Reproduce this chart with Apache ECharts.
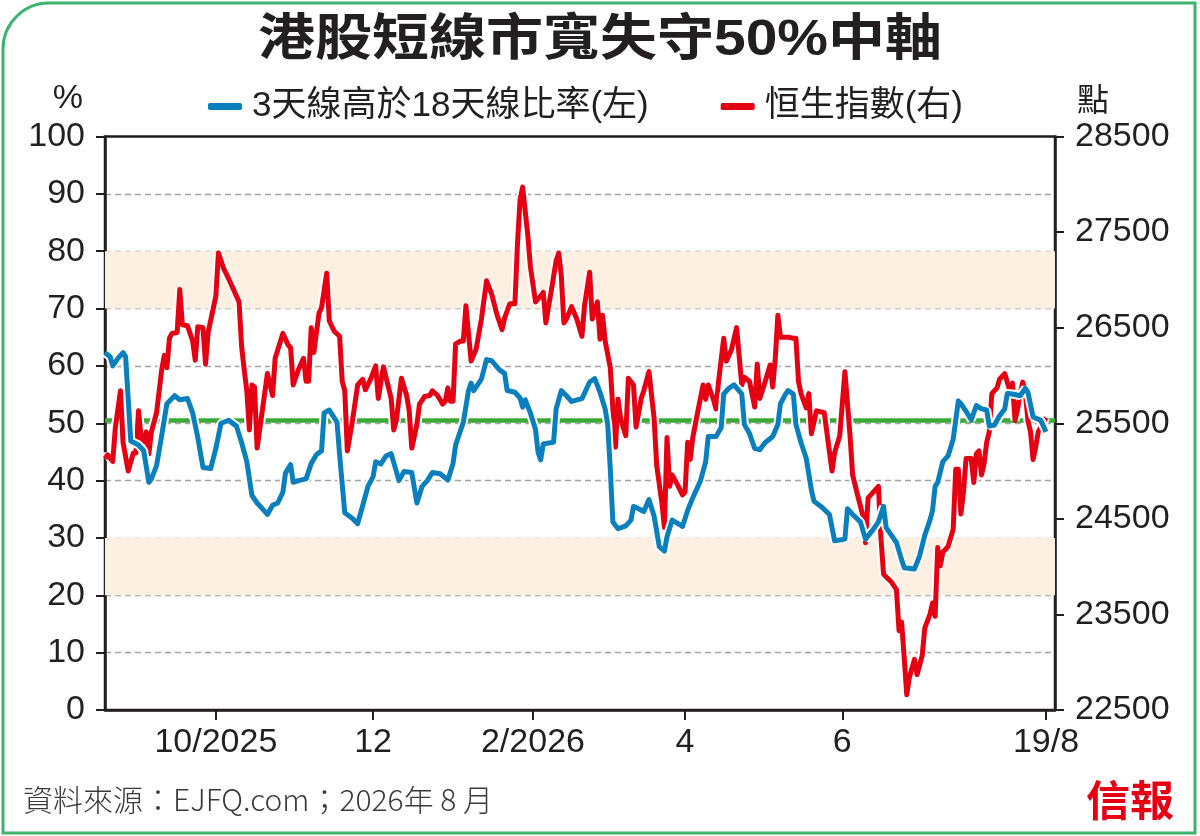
<!DOCTYPE html>
<html>
<head>
<meta charset="utf-8">
<script src="https://cdn.jsdelivr.net/npm/echarts@6/dist/echarts.min.js"></script>
<style>
  html, body { margin: 0; padding: 0; background: #fff; }
  #main { width: 1200px; height: 836px; }
</style>
</head>
<body>
<div id="main"></div>
<script>
// 3天線高於18天線比率 (左軸, %)
const ratioDates = [
  '2025-08-19','2025-08-21','2025-08-22','2025-08-24','2025-08-26','2025-08-27','2025-08-29',
  '2025-09-01','2025-09-03','2025-09-05','2025-09-06','2025-09-08','2025-09-10','2025-09-12',
  '2025-09-15','2025-09-17','2025-09-20','2025-09-22','2025-09-24','2025-09-26','2025-09-29',
  '2025-10-01','2025-10-03','2025-10-06','2025-10-09','2025-10-11','2025-10-13','2025-10-15',
  '2025-10-17','2025-10-19','2025-10-21','2025-10-23','2025-10-25','2025-10-27','2025-10-28',
  '2025-10-30','2025-10-31','2025-11-02','2025-11-05','2025-11-07','2025-11-09','2025-11-11',
  '2025-11-12','2025-11-14','2025-11-17','2025-11-18','2025-11-20','2025-11-23','2025-11-25',
  '2025-11-27','2025-11-29','2025-12-01','2025-12-02','2025-12-04','2025-12-06','2025-12-08',
  '2025-12-10','2025-12-11','2025-12-13','2025-12-16','2025-12-17','2025-12-18','2025-12-20',
  '2025-12-22','2025-12-24','2025-12-27','2025-12-30','2026-01-01','2026-01-02','2026-01-05',
  '2026-01-07','2026-01-08','2026-01-09','2026-01-12','2026-01-14','2026-01-16','2026-01-19',
  '2026-01-21','2026-01-22','2026-01-25','2026-01-27','2026-01-28','2026-01-29','2026-01-31',
  '2026-02-02','2026-02-03','2026-02-04','2026-02-05','2026-02-09','2026-02-10','2026-02-12',
  '2026-02-14','2026-02-16','2026-02-20','2026-02-23','2026-02-25','2026-02-27','2026-03-01',
  '2026-03-02','2026-03-03','2026-03-04','2026-03-06','2026-03-09','2026-03-11','2026-03-12',
  '2026-03-14','2026-03-16','2026-03-18','2026-03-20','2026-03-22','2026-03-24','2026-03-25',
  '2026-03-27','2026-03-30','2026-03-31','2026-04-02','2026-04-04','2026-04-07','2026-04-09',
  '2026-04-10','2026-04-13','2026-04-15','2026-04-16','2026-04-18','2026-04-20','2026-04-23',
  '2026-04-24','2026-04-26','2026-04-28','2026-04-30','2026-05-02','2026-05-05','2026-05-07',
  '2026-05-08','2026-05-10','2026-05-11','2026-05-13','2026-05-14','2026-05-16','2026-05-18',
  '2026-05-20','2026-05-21','2026-05-24','2026-05-27','2026-05-29','2026-06-02','2026-06-03',
  '2026-06-05','2026-06-08','2026-06-10','2026-06-13','2026-06-15','2026-06-17','2026-06-18',
  '2026-06-20','2026-06-22','2026-06-24','2026-06-25','2026-06-29','2026-07-01','2026-07-03',
  '2026-07-05','2026-07-06','2026-07-07','2026-07-08','2026-07-10','2026-07-12','2026-07-14',
  '2026-07-16','2026-07-17','2026-07-19','2026-07-21','2026-07-23','2026-07-25','2026-07-27',
  '2026-07-28','2026-07-30','2026-08-01','2026-08-03','2026-08-04','2026-08-06','2026-08-09',
  '2026-08-11','2026-08-12','2026-08-14','2026-08-17','2026-08-18','2026-08-19'
];
const ratioValues = [
  62.3,61.6,60,61.3,62.3,61.6,46.9,
  46.2,45.2,39.7,40.3,42.6,47.9,53.4,
  54.8,54.1,54.3,51.8,47.5,42.3,42.1,
  45.6,50,50.5,49.5,46.6,43.3,37.4,
  36.1,35.1,34.1,35.7,36.1,38,41.3,
  42.8,39.7,40,40.3,43,44.5,45.2,
  51.8,52.3,50.2,44.5,34.4,33.4,32.5,
  35.7,39,40.7,43.3,42.9,44.3,44.7,
  41.6,40,41.6,41.4,38.7,36.1,39,
  40,41.4,41.2,40.1,43,46.2,50.2,
  55.7,57,55.7,57.7,61.1,60.9,59.3,
  58.7,55.7,55.4,54.4,52.8,54.1,51.8,
  48.9,44.9,43.6,46.4,46.7,52.5,55.7,
  54.8,53.8,54.3,57.2,57.8,55.4,52.5,
  49.8,42,32.8,31.6,32.1,33.1,35.5,
  35.1,34.6,36.7,33.8,28.5,27.7,30.2,
  33.1,32.3,32,34.8,37,40,43.3,
  47.7,47.7,49.2,55.1,56.1,56.7,55.1,
  49.8,48.2,45.6,45.4,46.6,47.7,49.8,
  53.4,55.1,55.7,55.1,49.8,46.6,43.9,
  38.4,36.4,35.4,34.1,29.5,29.8,35.1,
  34.1,32.8,29.8,31.5,32.8,35.5,31.8,
  30.5,29.2,26.2,24.8,24.6,26.9,30.5,
  33.1,34.8,39,39.7,43.3,44.3,47.2,
  53.9,53.4,52.1,50.6,53.1,52.5,52.3,
  49.5,49.7,51.3,52.5,55.2,55.1,54.8,
  56.1,55.4,51.1,50.5,49.5,48.5
];

// 恒生指數 (右軸, 點)
const hsiDates = [
  '2025-08-19','2025-08-20','2025-08-22','2025-08-23','2025-08-25','2025-08-26','2025-08-28',
  '2025-08-30','2025-08-31','2025-09-01','2025-09-02','2025-09-03','2025-09-04','2025-09-05',
  '2025-09-06','2025-09-08','2025-09-10','2025-09-11','2025-09-12','2025-09-13','2025-09-14',
  '2025-09-16','2025-09-17','2025-09-18','2025-09-20','2025-09-22','2025-09-23','2025-09-24',
  '2025-09-26','2025-09-27','2025-09-28','2025-10-01','2025-10-02','2025-10-04','2025-10-06',
  '2025-10-08','2025-10-10','2025-10-11','2025-10-12','2025-10-13','2025-10-14','2025-10-15',
  '2025-10-16','2025-10-17','2025-10-19','2025-10-21','2025-10-23','2025-10-24','2025-10-27',
  '2025-10-29','2025-10-30','2025-10-31','2025-11-02','2025-11-04','2025-11-05','2025-11-06',
  '2025-11-07','2025-11-08','2025-11-10','2025-11-11','2025-11-13','2025-11-14','2025-11-16',
  '2025-11-18','2025-11-19','2025-11-20','2025-11-21','2025-11-23','2025-11-25','2025-11-27',
  '2025-11-28','2025-11-30','2025-12-02','2025-12-03','2025-12-05','2025-12-06','2025-12-08',
  '2025-12-09','2025-12-10','2025-12-12','2025-12-14','2025-12-15','2025-12-16','2025-12-18',
  '2025-12-19','2025-12-21','2025-12-23','2025-12-24','2025-12-26','2025-12-28','2025-12-29',
  '2025-12-30','2025-12-31','2026-01-01','2026-01-02','2026-01-04','2026-01-05','2026-01-06',
  '2026-01-08','2026-01-10','2026-01-12','2026-01-14','2026-01-16','2026-01-18','2026-01-20',
  '2026-01-21','2026-01-23','2026-01-25','2026-01-26','2026-01-27','2026-01-28','2026-01-30',
  '2026-01-31','2026-02-02','2026-02-04','2026-02-05','2026-02-06','2026-02-08','2026-02-10',
  '2026-02-11','2026-02-12','2026-02-13','2026-02-14','2026-02-16','2026-02-18','2026-02-20',
  '2026-02-21','2026-02-23','2026-02-24','2026-02-26','2026-02-27','2026-02-28','2026-03-01',
  '2026-03-03','2026-03-04','2026-03-05','2026-03-06','2026-03-07','2026-03-09','2026-03-10',
  '2026-03-12','2026-03-13','2026-03-15','2026-03-16','2026-03-18','2026-03-20','2026-03-21',
  '2026-03-23','2026-03-24','2026-03-25','2026-03-26','2026-03-27','2026-03-29','2026-03-31',
  '2026-04-01','2026-04-02','2026-04-03','2026-04-04','2026-04-06','2026-04-08','2026-04-09',
  '2026-04-10','2026-04-12','2026-04-13','2026-04-14','2026-04-16','2026-04-17','2026-04-19',
  '2026-04-21','2026-04-23','2026-04-24','2026-04-26','2026-04-28','2026-04-29','2026-04-30',
  '2026-05-02','2026-05-04','2026-05-05','2026-05-06','2026-05-07','2026-05-08','2026-05-11',
  '2026-05-13','2026-05-14','2026-05-15','2026-05-16','2026-05-18','2026-05-19','2026-05-20',
  '2026-05-22','2026-05-25','2026-05-28','2026-05-29','2026-05-31','2026-06-02','2026-06-04',
  '2026-06-05','2026-06-07','2026-06-09','2026-06-10','2026-06-11','2026-06-13','2026-06-15',
  '2026-06-16','2026-06-17','2026-06-20','2026-06-22','2026-06-23','2026-06-24','2026-06-25',
  '2026-06-26','2026-06-27','2026-06-29','2026-06-30','2026-07-02','2026-07-03','2026-07-05',
  '2026-07-06','2026-07-07','2026-07-08','2026-07-09','2026-07-10','2026-07-12','2026-07-14',
  '2026-07-15','2026-07-16','2026-07-17','2026-07-18','2026-07-19','2026-07-21','2026-07-22',
  '2026-07-23','2026-07-24','2026-07-25','2026-07-26','2026-07-27','2026-07-28','2026-07-29',
  '2026-07-31','2026-08-01','2026-08-03','2026-08-05','2026-08-06','2026-08-07','2026-08-08',
  '2026-08-09','2026-08-10','2026-08-11','2026-08-12','2026-08-13','2026-08-14','2026-08-15',
  '2026-08-16','2026-08-19'
];
const hsiValues = [
  25130,25170,25100,25450,25840,25300,25000,
  25190,25190,25630,25350,25300,25410,25180,
  25410,25610,26060,26210,26080,26390,26440,
  26450,26900,26530,26520,26360,26160,26510,
  26500,26120,26450,26830,27280,27120,27010,
  26890,26770,26300,26060,25840,25430,25900,
  25880,25240,25630,26020,25790,26180,26440,
  26320,26290,25900,26060,26180,25940,25940,
  26500,26240,26650,26710,27070,26570,26460,
  26410,25940,25840,25210,25530,25900,25960,
  25850,25960,26100,25760,26090,25980,25760,
  25430,25530,25970,25790,25630,25240,25490,
  25700,25780,25790,25840,25790,25700,25730,
  25870,25730,25730,26330,26360,26360,26730,
  26150,26280,26590,26990,26850,26640,26480,
  26600,26750,26750,27380,27840,27970,27470,
  27140,26770,26830,26870,26550,26870,27200,
  27280,27040,26550,26590,26720,26590,26410,
  26730,27080,26590,26770,26380,26630,26360,
  26080,25650,25250,25750,25550,25370,25970,
  25900,25460,25760,25840,26040,25550,25060,
  24670,24410,25350,24840,24960,24860,24750,
  24780,25300,25120,25350,25630,25900,25750,
  25900,25750,25650,25940,26390,26150,26270,
  26500,25900,25980,25940,25670,26120,25760,
  25930,26110,25880,26180,26630,26400,26400,
  26390,26390,25940,25810,25660,25810,25390,
  25630,25610,25000,25190,25370,26040,25370,
  24960,24740,24530,24250,24720,24780,24840,
  24290,23920,23840,23760,23330,23420,23050,
  22660,22840,23030,22870,23070,23360,23500,
  23620,23480,24200,24010,24150,24210,24390,
  25020,25020,24550,24780,25130,25130,24880,
  25180,25210,24960,25080,25300,25410,25810,
  25870,25960,26020,25840,25920,25530,25650,
  25810,25930,25810,25530,25410,25120,25250,
  25410,25560
];

const tickDates = ['2025-10-01', '2025-12-01', '2026-02-01', '2026-04-01', '2026-06-01', '2026-08-19'];
const tickLabels = ['10/2025', '12', '2/2026', '4', '6', '19/8'];
const rightTicks = [22500, 23500, 24500, 25500, 26500, 27500, 28500];
const bands = [[70, 80], [20, 30]];
const middleLine = 50.5;

const FONT = "'Liberation Sans', 'Noto Sans CJK TC', sans-serif";
const INK = '#231f20';
const BLUE = '#0a7fbd';
const RED = '#e50012';

let chart = echarts.init(document.getElementById('main'));
let T = s => +echarts.time.parse(s);
let tickTimes = tickDates.map(T);

// 日期換成時間戳，放在數值軸上（方便自訂刻度位置）
let ratioData = ratioDates.map((d, i) => [T(d), ratioValues[i]]);
let hsiData = hsiDates.map((d, i) => [T(d), hsiValues[i]]);

// 分隔線：頂部由外框代替，所以首尾透明
let gridColors = [];
for (let i = 0; i <= 10; i++) gridColors.push(i === 0 || i === 10 ? 'rgba(0,0,0,0)' : '#a3a3a3');

let option = {
  backgroundColor: '#fff',
  animation: false,
  textStyle: { fontFamily: FONT },
  grid: {
    left: 105, right: 145, top: 136.5, bottom: 126,
    show: true, borderColor: INK, borderWidth: 2.5, backgroundColor: 'rgba(0,0,0,0)'
  },
  legend: {
    left: 203, top: 84,
    itemWidth: 34, itemHeight: 7, itemGap: 72,
    selectedMode: false,
    textStyle: { fontSize: 35, color: INK, fontFamily: FONT, padding: [0, 0, 0, 5] },
    data: [
      { name: '3天線高於18天線比率(左)', icon: 'roundRect' },
      { name: '恒生指數(右)', icon: 'roundRect' }
    ]
  },
  xAxis: {
    type: 'value',
    min: T('2025-08-19'),
    max: T('2026-08-22 12:00'),
    axisLine: { lineStyle: { color: INK, width: 2.5 } },
    axisTick: { show: true, length: 10, lineStyle: { color: INK, width: 2 }, customValues: tickTimes },
    axisLabel: {
      fontSize: 34, color: INK, fontFamily: FONT, margin: 16,
      customValues: tickTimes,
      formatter: function (v) {
        for (let i = 0; i < tickTimes.length; i++) {
          if (Math.abs(tickTimes[i] - v) < 43200000) return tickLabels[i];
        }
        return '';
      }
    },
    splitLine: { show: false }
  },
  yAxis: [
    {
      type: 'value', min: 0, max: 100, interval: 10, position: 'left',
      axisLine: { show: true, lineStyle: { color: INK, width: 2.5 } },
      axisTick: { show: true, length: 9, lineStyle: { color: INK, width: 2 } },
      axisLabel: { fontSize: 34, color: INK, fontFamily: FONT, margin: 20 },
      splitLine: { show: true, lineStyle: { color: gridColors, type: [6, 4], width: 1.3 } }
    },
    {
      type: 'value', min: 22500, max: 28500, position: 'right',
      axisLine: { show: true, lineStyle: { color: INK, width: 2.5 } },
      axisTick: { show: true, length: 9, lineStyle: { color: INK, width: 2 }, customValues: rightTicks },
      axisLabel: {
        fontSize: 34, color: INK, fontFamily: FONT, margin: 20, customValues: rightTicks,
        formatter: v => String(Math.round(v))
      },
      splitLine: { show: false }
    }
  ],
  series: [
    {
      // 底層：區間色帶及50%中軸
      name: 'bands', type: 'line', yAxisIndex: 0, data: [], silent: true, z: 1,
      markArea: {
        silent: true, z: 1,
        itemStyle: { color: '#fdf0e3' },
        data: bands.map(b => [{ yAxis: b[0] }, { yAxis: b[1] }])
      },
      markLine: {
        silent: true, symbol: 'none', label: { show: false }, z: 1,
        lineStyle: { color: '#3aaa35', width: 4.5, type: 'solid' },
        data: [{ yAxis: middleLine }]
      }
    },
    {
      name: 'hsiHalo', type: 'line', yAxisIndex: 1, data: hsiData, silent: true, z: 2,
      showSymbol: false, lineStyle: { color: '#fff', width: 9 }, itemStyle: { color: '#fff' }
    },
    {
      name: '恒生指數(右)', type: 'line', yAxisIndex: 1, data: hsiData, z: 2,
      showSymbol: false, lineStyle: { color: RED, width: 5, join: 'round' }, itemStyle: { color: RED }
    },
    {
      name: 'ratioHalo', type: 'line', yAxisIndex: 0, data: ratioData, silent: true, z: 2,
      showSymbol: false, lineStyle: { color: '#fff', width: 9 }, itemStyle: { color: '#fff' }
    },
    {
      name: '3天線高於18天線比率(左)', type: 'line', yAxisIndex: 0, data: ratioData, z: 2,
      showSymbol: false, lineStyle: { color: BLUE, width: 5, join: 'round' }, itemStyle: { color: BLUE }
    }
  ],
  graphic: [
    {
      type: 'rect', silent: true, z: 100,
      shape: { x: 3, y: 3, width: 1192, height: 830, r: [46, 0, 0, 0] },
      style: { fill: null, stroke: '#3db46d', lineWidth: 3 }
    },
    {
      type: 'text', x: 600, y: 41, scaleX: 1.14, z: 100,
      style: {
        text: '港股短線市寬失守50%中軸', fill: INK, align: 'center', verticalAlign: 'middle',
        font: "bold 50px 'Liberation Sans', 'Noto Sans CJK TC', sans-serif"
      }
    },
    {
      type: 'text', x: 83, y: 99, z: 100,
      style: { text: '%', fill: INK, align: 'right', verticalAlign: 'middle', font: "34px 'Liberation Sans', sans-serif" }
    },
    {
      type: 'text', x: 1077, y: 99, z: 100,
      style: { text: '點', fill: INK, align: 'left', verticalAlign: 'middle', font: "32px 'Noto Sans CJK TC', sans-serif" }
    },
    {
      type: 'text', x: 23, y: 800, z: 100,
      style: {
        text: '資料來源：EJFQ.com；2026年 8 月', fill: '#3a3a3a', align: 'left', verticalAlign: 'middle',
        font: "300 30px 'Noto Sans CJK TC', sans-serif"
      }
    },
    {
      type: 'text', x: 1130, y: 800, z: 100, scaleX: 1.05,
      style: {
        text: '信報', fill: '#e60012', align: 'center', verticalAlign: 'middle',
        font: "bold 42px 'Noto Sans CJK TC', serif"
      }
    }
  ]
};

chart.setOption(option);
</script>
</body>
</html>
